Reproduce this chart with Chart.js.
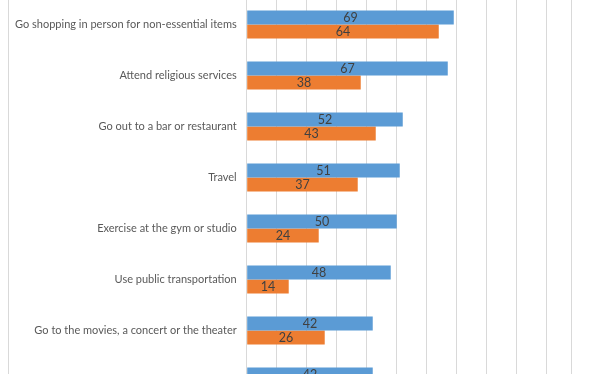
<!DOCTYPE html>
<html>
<head>
<meta charset="utf-8">
<script src="https://cdn.jsdelivr.net/npm/chart.js@4"></script>
<style>
    html, body { margin: 0; padding: 0; background: #fff; overflow: hidden; }
    #wrap { position: absolute; left: 0; top: -1px; width: 612px; height: 408px; }
    #frame { position: absolute; left: 8px; top: 0; width: 1px; height: 420px; background: #d9d9d9; }
</style>
</head>
<body>
<div id="frame"></div>
<div id="wrap"><canvas id="chart"></canvas></div>
<script>
// Chart data (last category is cut off at the bottom of the picture)
const categories = [
    'Go shopping in person for non-essential items',
    'Attend religious services',
    'Go out to a bar or restaurant',
    'Travel',
    'Exercise at the gym or studio',
    'Use public transportation',
    'Go to the movies, a concert or the theater',
    ''
];
const seriesNames = ['Series 1', 'Series 2'];
const blueValues = [69, 67, 52, 51, 50, 48, 42, 42];
const orangeValues = [64, 38, 43, 37, 24, 14, 26, null];
const gridTicks = [0, 10, 20, 30, 40, 50, 60, 70, 80, 90, 100, 108.3];

// Draws the value in the middle of every bar
const barValueLabels = {
    id: 'barValueLabels',
    afterDatasetsDraw(chart) {
        const ctx = chart.ctx;
        ctx.save();
        ctx.font = '12.5px Lato';
        ctx.fillStyle = '#404040';
        ctx.textAlign = 'center';
        ctx.textBaseline = 'middle';
        chart.data.datasets.forEach((ds, i) => {
            chart.getDatasetMeta(i).data.forEach((bar, j) => {
                if (ds.data[j] == null) return;
                const mid = (bar.x + bar.base) / 2;
                ctx.fillText(ds.data[j], mid, bar.y + 0.5);
            });
        });
        ctx.restore();
    }
};

const ctx = document.getElementById('chart').getContext('2d');
const chart = new Chart(ctx, {
    type: 'bar',
    data: {
        labels: categories,
        datasets: [{
            label: seriesNames[0],
            data: blueValues,
            backgroundColor: '#5b9bd5',
            categoryPercentage: 0.55,
            barPercentage: 1.0
        }, {
            label: seriesNames[1],
            data: orangeValues,
            backgroundColor: '#ed7d31',
            categoryPercentage: 0.55,
            barPercentage: 1.0
        }]
    },
    options: {
        indexAxis: 'y',
        responsive: true,
        maintainAspectRatio: false,
        animation: false,
        layout: { padding: { left: 0, right: 40.3, top: 0, bottom: 0 } },
        plugins: {
            legend: { display: false },
            tooltip: { enabled: false }
        },
        scales: {
            x: {
                min: 0,
                max: 108.3,
                afterBuildTicks: (scale) => {
                    scale.ticks = gridTicks.map(v => ({ value: v }));
                },
                afterFit: (scale) => {
                    scale.height = 0;
                    scale.paddingLeft = 0;
                    scale.paddingRight = 0;
                },
                ticks: { display: false },
                grid: { color: '#d9d9d9', drawTicks: false },
                border: { display: false }
            },
            y: {
                afterFit: (scale) => {
                    scale.width = 246.7;
                    scale.paddingTop = 0;
                    scale.paddingBottom = 0;
                },
                ticks: {
                    font: { family: 'Lato', size: 11 },
                    color: '#595959',
                    padding: 10
                },
                grid: { display: false, drawTicks: false },
                border: { display: true, color: '#d9d9d9' }
            }
        }
    },
    plugins: [barValueLabels]
});
</script>
</body>
</html>
